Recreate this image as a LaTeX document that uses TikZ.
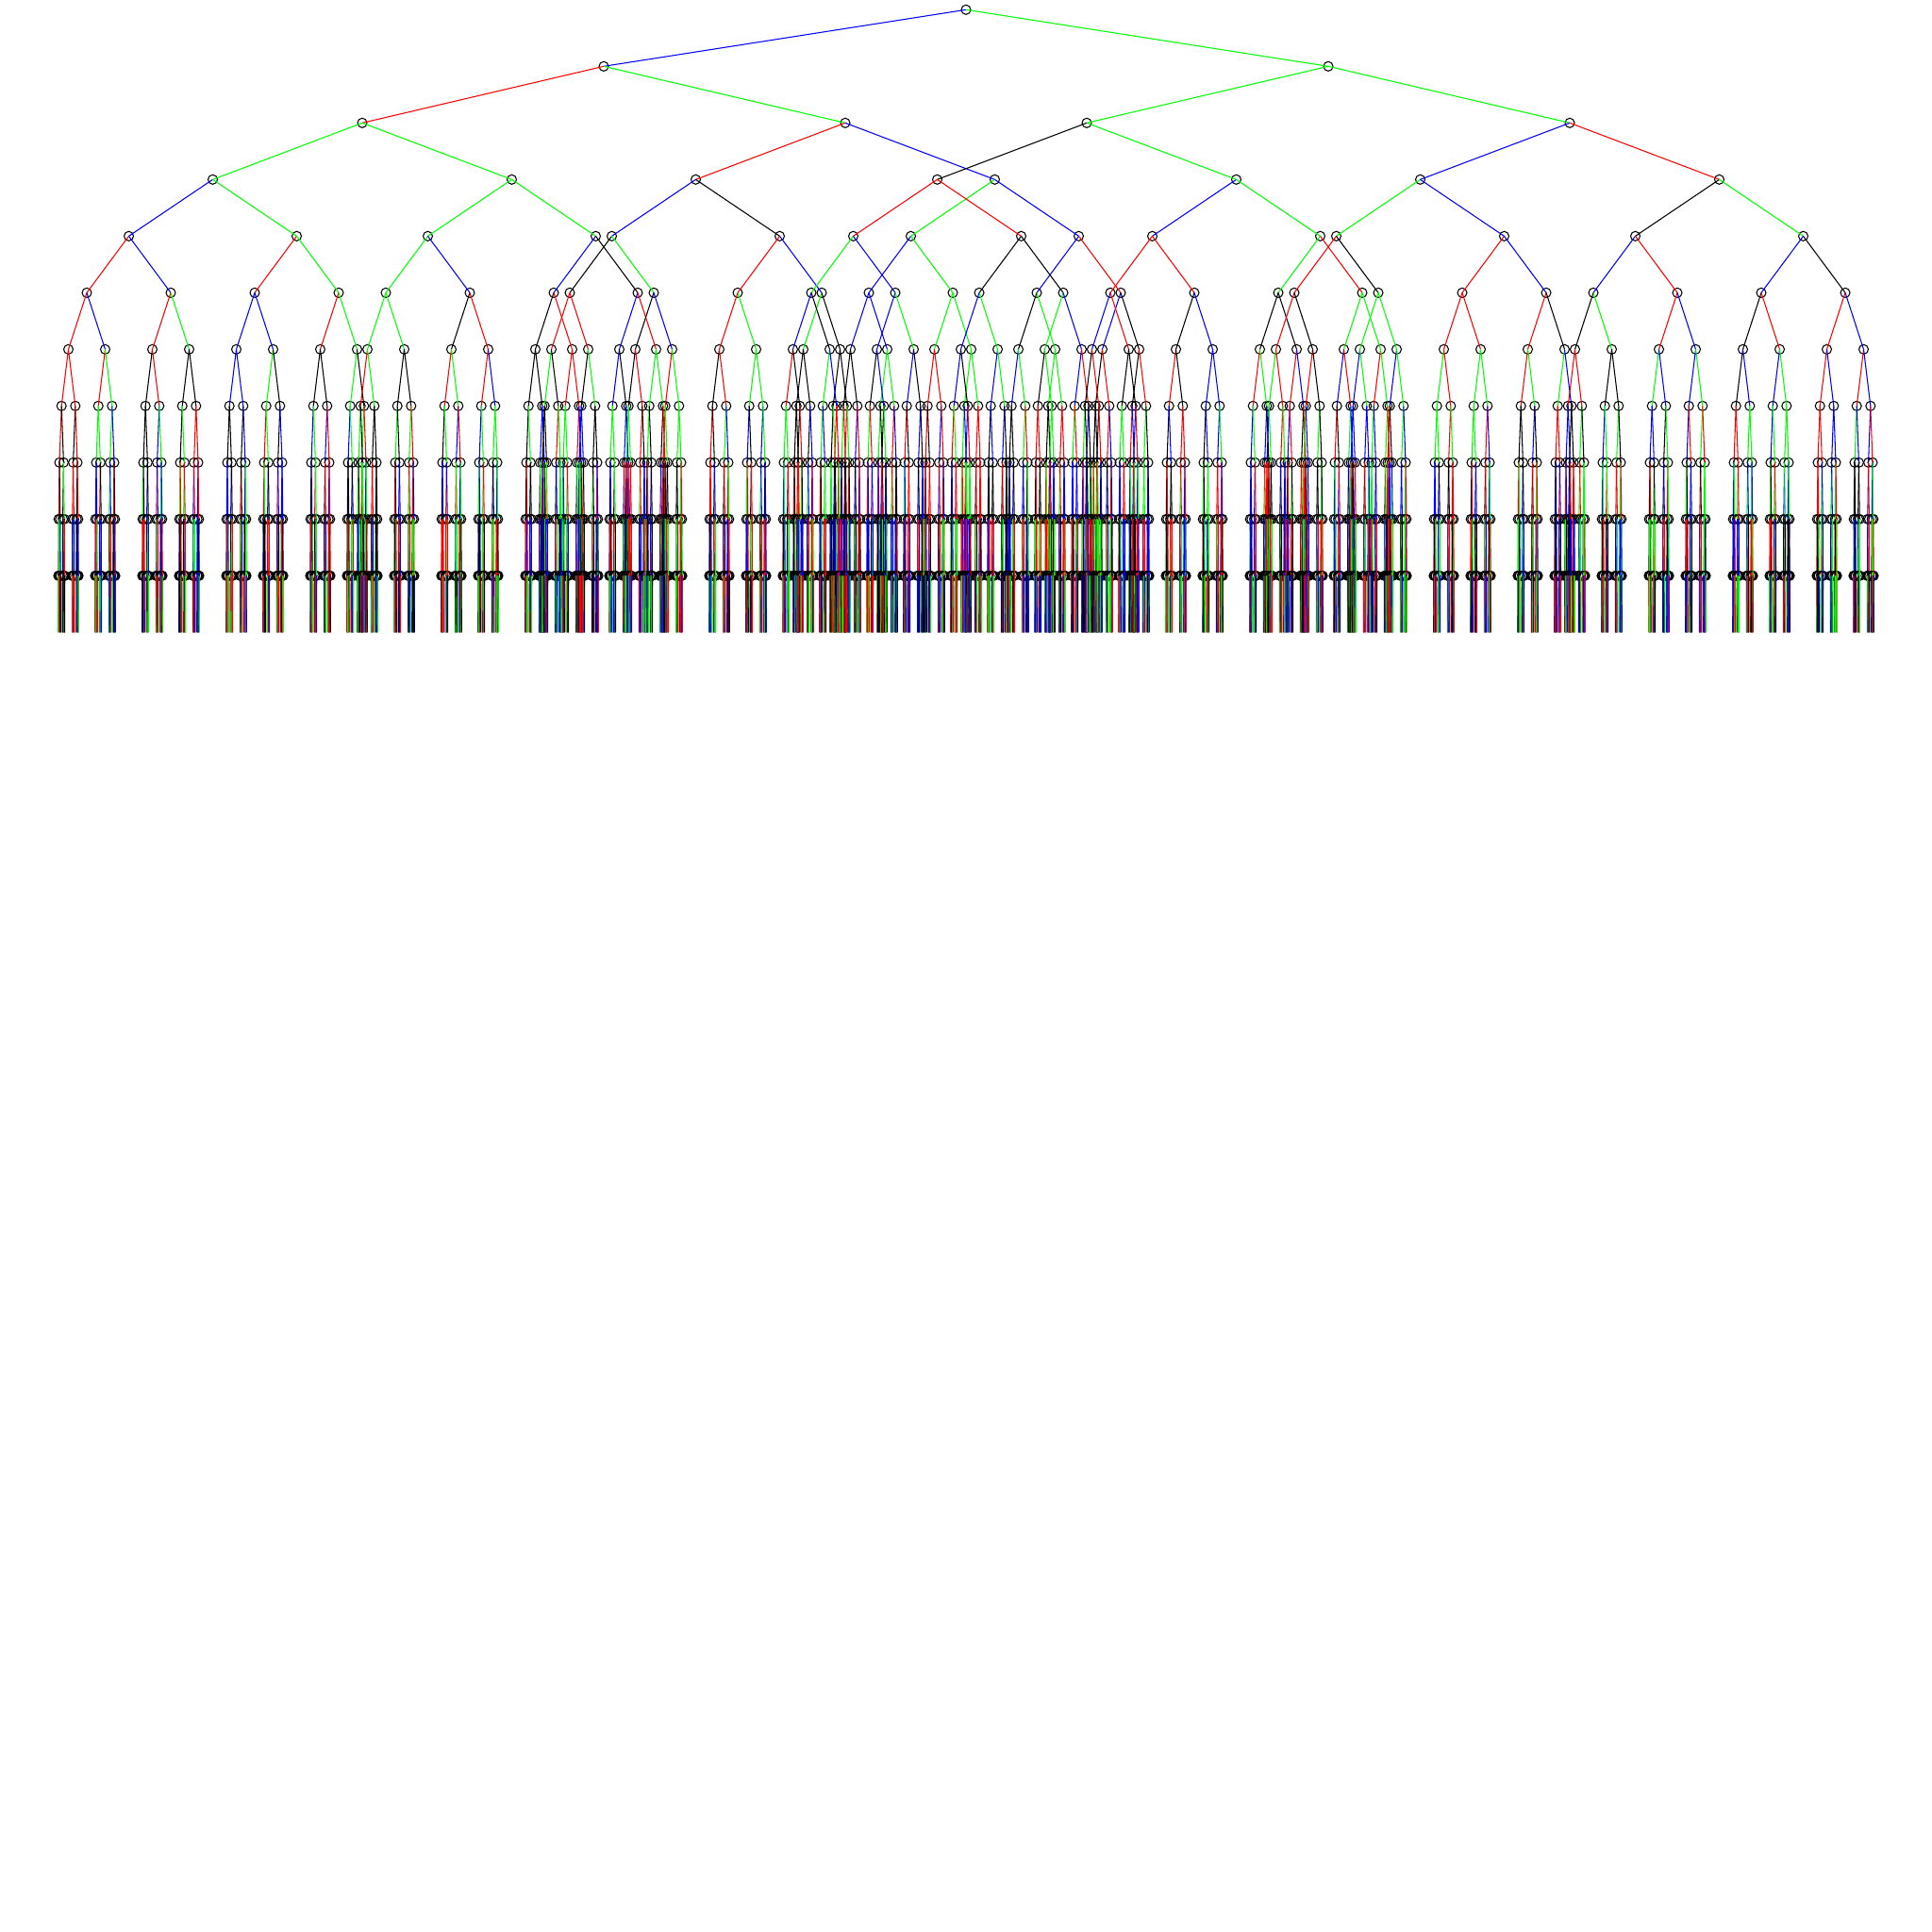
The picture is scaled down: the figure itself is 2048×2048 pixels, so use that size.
\documentclass[tikz,border=0pt]{standalone}
\usetikzlibrary{calc}
\newcommand\setpair[4]{%
  \expandafter\def\csname ec-#1-\the\numexpr2*#2\relax\endcsname{#3}%
  \expandafter\def\csname ec-#1-\the\numexpr2*#2+1\relax\endcsname{#4}}
\newcommand\pickcol[2]{%
  \ifcsname ec-#1-#2\endcsname
    \edef\ecol{\csname ec-#1-#2\endcsname}%
  \else
    \pgfmathrandominteger{\rc}{1}{4}%
    \ifcase\rc\or\def\ecol{red}\or\def\ecol{green}\or\def\ecol{blue}\or\def\ecol{black}\fi
  \fi}
% known edge colours of the upper levels: level, parent index, left, right
\setpair{1}{0}{blue}{green}
\setpair{2}{0}{red}{green}\setpair{2}{1}{green}{green}
\setpair{3}{0}{green}{green}\setpair{3}{1}{red}{blue}\setpair{3}{2}{black}{green}\setpair{3}{3}{blue}{red}
\setpair{4}{0}{blue}{green}\setpair{4}{1}{green}{green}\setpair{4}{2}{blue}{black}\setpair{4}{3}{green}{blue}
\setpair{4}{4}{red}{red}\setpair{4}{5}{blue}{green}\setpair{4}{6}{green}{blue}\setpair{4}{7}{black}{green}
\setpair{5}{0}{red}{blue}\setpair{5}{1}{red}{green}\setpair{5}{2}{green}{blue}\setpair{5}{3}{blue}{black}
\setpair{5}{4}{black}{green}\setpair{5}{5}{red}{blue}\setpair{5}{6}{blue}{green}\setpair{5}{7}{blue}{red}
\setpair{5}{8}{green}{blue}\setpair{5}{9}{black}{black}\setpair{5}{10}{red}{red}\setpair{5}{11}{green}{red}
\setpair{5}{12}{red}{black}\setpair{5}{13}{red}{blue}\setpair{5}{14}{blue}{red}\setpair{5}{15}{blue}{black}
\setpair{6}{0}{red}{blue}\setpair{6}{1}{red}{green}\setpair{6}{2}{blue}{blue}\setpair{6}{3}{red}{green}
\setpair{6}{4}{green}{green}\setpair{6}{5}{black}{red}\setpair{6}{6}{black}{red}\setpair{6}{7}{blue}{red}
\setpair{6}{8}{red}{red}\setpair{6}{9}{black}{blue}\setpair{6}{10}{red}{green}\setpair{6}{11}{green}{black}
\setpair{6}{12}{blue}{blue}\setpair{6}{13}{green}{green}\setpair{6}{14}{black}{green}\setpair{6}{15}{blue}{black}
\setpair{6}{16}{blue}{black}\setpair{6}{17}{blue}{green}\setpair{6}{18}{blue}{green}\setpair{6}{19}{green}{blue}
\setpair{6}{20}{blue}{red}\setpair{6}{21}{black}{blue}\setpair{6}{22}{black}{black}\setpair{6}{23}{green}{green}
\setpair{6}{24}{red}{black}\setpair{6}{25}{green}{green}\setpair{6}{26}{red}{red}\setpair{6}{27}{red}{black}
\setpair{6}{28}{black}{green}\setpair{6}{29}{red}{blue}\setpair{6}{30}{black}{red}\setpair{6}{31}{red}{blue}
\begin{document}
\begin{tikzpicture}[x=0.01cm,y=-0.01cm,
  tn/.style={circle,draw=black,line width=0.3pt,inner sep=0pt,minimum size=0.1cm},
  tedge/.style={line width=0.3pt}]
\useasboundingbox (0,0) rectangle (2048,2048);
\pgfmathsetseed{2024}
\node[tn] (n-0-0) at (1024,10.3) {};
\foreach \k/\dd in {1/384,2/256,3/158.5,4/89,5/44.5,6/19.5,7/7.3,8/2.2,9/0.8,10/0.3} {
  \pgfmathtruncatemacro\km{\k-1}
  \pgfmathtruncatemacro\nmax{2^\k-1}
  \foreach \i in {0,...,\nmax} {
    \pgfmathtruncatemacro\p{floor(\i/2)}
    \pgfmathtruncatemacro\b{mod(\i,2)}
    \pgfmathsetmacro\dx{(2*\b-1)*\dd}
    \node[tn] (n-\k-\i) at ($(n-\km-\p)+(\dx,60)$) {};
    \pickcol{\k}{\i}
    \draw[tedge,draw=\ecol] (n-\km-\p.center) -- (n-\k-\i.center);
  }
}
\foreach \i in {0,...,1023} {
  \coordinate (t-\i-0) at ($(n-10-\i)+(-0.2,60)$);
  \coordinate (t-\i-1) at ($(n-10-\i)+(0.2,60)$);
  \pickcol{11}{\i}
  \draw[tedge,draw=\ecol] (n-10-\i.center) -- (t-\i-0);
  \pickcol{11}{\i}
  \draw[tedge,draw=\ecol] (n-10-\i.center) -- (t-\i-1);
}
\end{tikzpicture}
\end{document}
